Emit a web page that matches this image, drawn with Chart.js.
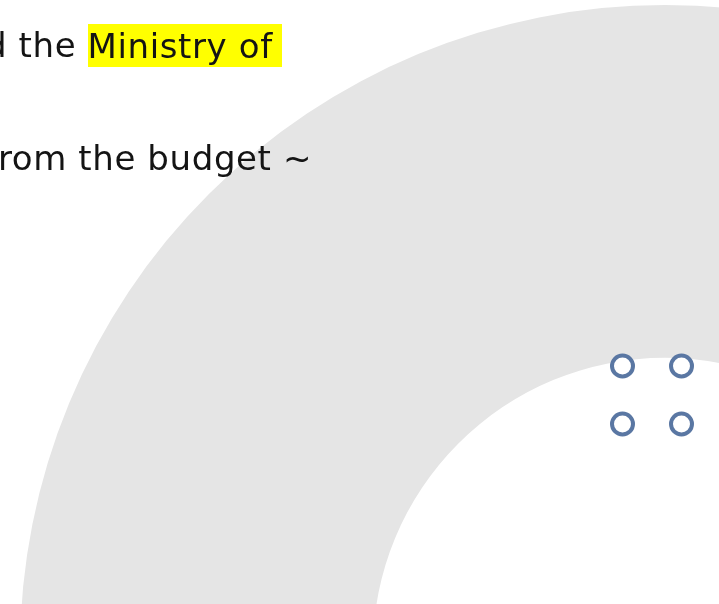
<!DOCTYPE html>
<html>
<head>
<meta charset="utf-8">
<script src="https://cdn.jsdelivr.net/npm/chart.js@4.4.0/dist/chart.umd.min.js"></script>
<style>
  html, body { margin: 0; padding: 0; background: #fff; overflow: hidden; width: 719px; height: 604px; }
  #ring { position: absolute; left: 20px; top: 5px; }
  #dots { position: absolute; left: 593px; top: 337px; }
  .line { position: absolute; white-space: nowrap; font-family: "DejaVu Sans", sans-serif; font-size: 34px; letter-spacing: 0.6px; color: #141414; line-height: 43px; }
  #line1 { left: -15px; top: 24px; }
  #line2 { left: -2px; top: 137px; }
  .mark { background: #ffff00; padding: 1.5px 9px 1.5px 0; }
</style>
</head>
<body>
<canvas id="ring" width="1290" height="1290"></canvas>
<canvas id="dots" width="118" height="116"></canvas>
<div class="line" id="line1">d the <span class="mark">Ministry of </span></div>
<div class="line" id="line2">rom the budget ~</div>
<script>
// ring data
var ringLabels = ['Share'];
var ringValues = [100];

// the four small markers (2 x 2 grid)
var dotX = [0, 1, 0, 1];
var dotY = [1, 1, 0, 0];

document.addEventListener("DOMContentLoaded", function () {
    // big grey doughnut
    var ctxRing = document.getElementById('ring').getContext('2d');
    new Chart(ctxRing, {
        type: 'doughnut',
        data: {
            labels: ringLabels,
            datasets: [{
                data: ringValues,
                backgroundColor: '#e5e5e5',
                borderWidth: 0
            }]
        },
        options: {
            responsive: false,
            animation: false,
            cutout: '45.3%',
            layout: { padding: 0 },
            plugins: {
                legend: { display: false },
                tooltip: { enabled: false }
            }
        }
    });

    // small ring markers
    var points = dotX.map(function (x, i) { return { x: x, y: dotY[i] }; });
    var ctxDots = document.getElementById('dots').getContext('2d');
    new Chart(ctxDots, {
        type: 'scatter',
        data: {
            datasets: [{
                data: points,
                pointStyle: 'circle',
                pointRadius: 10.5,
                pointBorderWidth: 4,
                pointBorderColor: '#5a77a3',
                pointBackgroundColor: '#ffffff'
            }]
        },
        options: {
            responsive: false,
            animation: false,
            clip: false,
            layout: { padding: 0, autoPadding: false },
            scales: {
                x: { display: false, min: -0.5, max: 1.5 },
                y: { display: false, min: -0.5, max: 1.5 }
            },
            plugins: {
                legend: { display: false },
                tooltip: { enabled: false }
            }
        }
    });
});
</script>
</body>
</html>
